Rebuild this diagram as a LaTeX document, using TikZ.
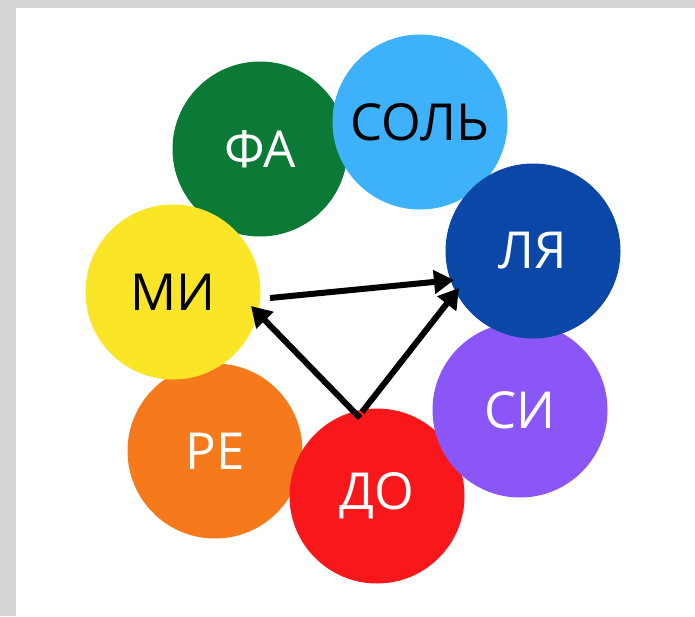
\documentclass[tikz,border=0pt]{standalone}
\usepackage{fontspec}
\setmainfont{Open Sans}
\usetikzlibrary{arrows.meta}
\definecolor{bggray}{HTML}{D5D5D5}
\definecolor{cfa}{HTML}{0B7A36}
\definecolor{csol}{HTML}{3DB1F9}
\definecolor{clya}{HTML}{0A47A6}
\definecolor{cmi}{HTML}{FBE527}
\definecolor{csi}{HTML}{8B56F8}
\definecolor{cre}{HTML}{F67A1C}
\definecolor{cdo}{HTML}{F8171B}
\tikzset{
  note/.style={circle, minimum size=175pt, inner sep=0pt, draw=none,
    font=\fontsize{51}{51}\selectfont},
  arr/.style={line width=6pt, -{Triangle[length=20pt,width=23pt]}, black},
}
\begin{document}
\begin{tikzpicture}[x=1pt,y=-1pt]
\fill[bggray] (0,0) rectangle (695,616);
\fill[white] (16,8) rectangle (695,616);
\useasboundingbox (0,0) rectangle (695,616);
\node[note, fill=cre, text=white] (re) at (215,451) {РЕ};
\node[note, fill=cdo, text=white] (do) at (377,496) {ДО};
\node[note, fill=csi, text=white] (si) at (520,410) {СИ};
\node[note, fill=cfa, text=white] (fa) at (260,149) {ФА};
\node[note, fill=csol, text=black] (sol) at (420,122) {СОЛЬ};
\node[note, fill=clya, text=white] (lya) at (533,251) {ЛЯ};
\node[note, fill=cmi, text=black] (mi) at (173,292) {МИ};
\coordinate (misrc) at (270,298);
\coordinate (lyain1) at (454,280);
\coordinate (dosrc1) at (360,418);
\coordinate (miin) at (251,306);
\coordinate (dosrc2) at (362,412);
\coordinate (lyain2) at (459,288);
\draw[arr] (misrc) -- (lyain1);
\draw[arr] (dosrc1) -- (miin);
\draw[arr] (dosrc2) -- (lyain2);
\end{tikzpicture}
\end{document}
